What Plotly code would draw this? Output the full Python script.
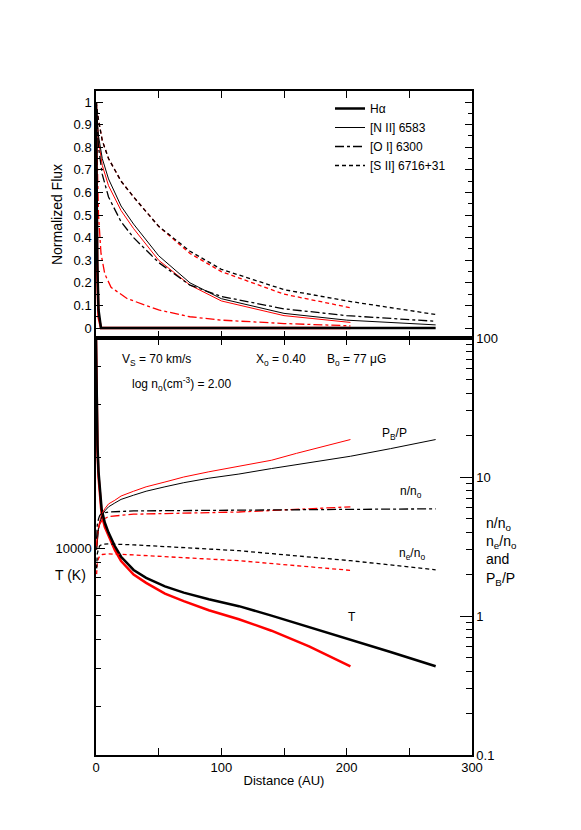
import plotly.graph_objects as go

W, H = 581, 830

# -------------------------
# Data: top panel (normalized flux vs distance)
# -------------------------
d_ha_blk = [0, 0.5, 1, 2, 4, 271]
f_ha_blk = [1, 0.6, 0.3, 0.08, 0, 0]
d_ha_red = [0, 0.5, 1, 2, 4, 203]
f_ha_red = [1, 0.55, 0.25, 0.05, 0, 0]

d_nii_blk = [0, 2, 5, 10, 20, 30, 50, 75, 100, 150, 200, 271]
f_nii_blk = [1, 0.85, 0.75, 0.66, 0.54, 0.46, 0.32, 0.20, 0.13, 0.065, 0.035, 0.014]
d_nii_red = [0, 2, 5, 10, 20, 30, 50, 75, 100, 150, 203]
f_nii_red = [1, 0.83, 0.72, 0.63, 0.52, 0.44, 0.30, 0.19, 0.12, 0.055, 0.025]

d_oi_blk = [0, 2, 5, 10, 20, 30, 50, 75, 100, 150, 200, 271]
f_oi_blk = [1, 0.8, 0.68, 0.58, 0.47, 0.40, 0.29, 0.19, 0.14, 0.085, 0.055, 0.03]
d_oi_red = [0, 1, 2, 4, 7, 12, 25, 50, 75, 100, 150, 203]
f_oi_red = [1, 0.7, 0.5, 0.33, 0.24, 0.18, 0.13, 0.08, 0.05, 0.035, 0.02, 0.01]

d_sii_blk = [0, 2, 5, 10, 20, 30, 50, 75, 100, 150, 200, 271]
f_sii_blk = [1, 0.92, 0.83, 0.75, 0.65, 0.58, 0.45, 0.34, 0.26, 0.17, 0.12, 0.06]
d_sii_red = [0, 2, 5, 10, 20, 30, 50, 75, 100, 150, 203]
f_sii_red = [1, 0.92, 0.83, 0.75, 0.65, 0.58, 0.45, 0.33, 0.25, 0.15, 0.09]

# -------------------------
# Data: bottom panel
# -------------------------
d_t_blk = [0, 0.3, 0.7, 1.2, 2, 3, 4.5, 7, 10, 15, 20, 30, 40, 55, 70, 90,
           114, 140, 170, 200, 235, 271]
t_blk = [49000, 38000, 28000, 22000, 18000, 15500, 13500, 12200, 11300, 10200,
         9400, 8500, 8000, 7500, 7150, 6800, 6450, 6000, 5500, 5050, 4550, 4080]
d_t_red = [0, 0.3, 0.7, 1.2, 2, 3, 4.5, 7, 10, 15, 20, 30, 40, 55, 70, 90,
           114, 140, 170, 203]
t_red = [49000, 37000, 27000, 21000, 17300, 15000, 13000, 11800, 11000, 9900,
         9100, 8200, 7700, 7100, 6700, 6250, 5840, 5350, 4750, 4080]

d_pb_blk = [0.5, 1, 2, 3.5, 5, 7, 10, 15, 20, 30, 40, 55, 70, 90, 114, 140, 160, 180, 203, 235, 271]
pb_blk = [3.0, 3.6, 4.2, 4.8, 5.3, 5.7, 6.1, 6.5, 6.9, 7.4, 7.9, 8.5, 9.1, 9.8, 10.5,
          11.5, 12.3, 13.1, 14.1, 16.0, 18.6]
d_pb_red = [0.5, 1, 2, 3.5, 5, 7, 10, 15, 20, 30, 40, 55, 70, 90, 114, 140, 160, 180, 203]
pb_red = [3.0, 3.7, 4.4, 5.0, 5.5, 5.9, 6.4, 6.8, 7.3, 7.9, 8.5, 9.2, 10.0, 10.9, 11.9,
          13.2, 14.8, 16.5, 18.6]

d_n_blk = [0.5, 1, 2, 3, 5, 10, 30, 114, 203, 271]
n_blk = [3.6, 4.5, 5.0, 5.3, 5.5, 5.6, 5.7, 5.8, 5.85, 5.9]
d_n_red = [0.5, 1, 2, 3, 5, 10, 30, 114, 203]
n_red = [3.2, 3.8, 4.3, 4.6, 4.9, 5.2, 5.4, 5.6, 6.1]

d_ne_blk = [0.5, 1, 2, 3, 5, 10, 30, 114, 203, 271]
ne_blk = [2.2, 2.8, 3.05, 3.2, 3.28, 3.3, 3.25, 2.95, 2.5, 2.15]
d_ne_red = [0.5, 1, 2, 3, 5, 10, 30, 114, 203]
ne_red = [2.0, 2.4, 2.6, 2.7, 2.77, 2.8, 2.75, 2.5, 2.13]

FONT = "Liberation Sans, Arial, sans-serif"
DASH = "4px,3px"

# plot frame in pixels
L, R, T, B = 88, 464, 83, 747
SPLIT = 330


def px(x):
    return (x - L) / (R - L)


def py(y):
    return (B - y) / (B - T)


fig = go.Figure()


def add(x, y, color, width, dash, ya, name=None):
    fig.add_trace(
        go.Scatter(
            x=x, y=y, mode="lines", yaxis=ya, xaxis="x2" if ya == "y" else "x",
            line=dict(color=color, width=width, dash=dash),
            name=name, showlegend=name is not None,
        )
    )


# top panel
add(d_ha_red, f_ha_red, "red", 2.5, "solid", "y")
add(d_nii_red, f_nii_red, "red", 1, "solid", "y")
add(d_oi_red, f_oi_red, "red", 1.3, "dashdot", "y")
add(d_sii_red, f_sii_red, "red", 1.3, DASH, "y")
add(d_ha_blk, f_ha_blk, "black", 2.5, "solid", "y", "H\u03b1")
add(d_nii_blk, f_nii_blk, "black", 1, "solid", "y", "[N II] 6583")
add(d_oi_blk, f_oi_blk, "black", 1.3, "dashdot", "y", "[O I] 6300")
add(d_sii_blk, f_sii_blk, "black", 1.3, DASH, "y", "[S II] 6716+31")

# bottom panel
add(d_t_red, t_red, "red", 2.5, "solid", "y2")
add(d_t_blk, t_blk, "black", 2.5, "solid", "y2")
add(d_pb_red, pb_red, "red", 1, "solid", "y3")
add(d_pb_blk, pb_blk, "black", 1, "solid", "y3")
add(d_n_red, n_red, "red", 1.3, "dashdot", "y3")
add(d_n_blk, n_blk, "black", 1.3, "dashdot", "y3")
add(d_ne_red, ne_red, "red", 1.3, DASH, "y3")
add(d_ne_blk, ne_blk, "black", 1.3, DASH, "y3")

axis_common = dict(
    showline=True, linecolor="black", linewidth=1.5, mirror="ticks",
    ticks="inside", tickcolor="black", ticklen=7, showgrid=False,
    zeroline=False, tickfont=dict(size=13, color="black"), automargin=False,
)

top_dom = [py(SPLIT), 1]
bot_dom = [0, py(SPLIT)]

t_minor = [2000, 3000, 4000, 5000, 6000, 7000, 8000, 9000, 20000, 30000, 40000]
r_minor = [m * 10 ** e for e in (-1, 0, 1) for m in range(2, 10)]

fig.update_layout(
    width=W, height=H, margin=dict(l=L, r=W - R, t=T, b=H - B),
    paper_bgcolor="white", plot_bgcolor="white",
    font=dict(family=FONT, size=13, color="black"),
    xaxis=dict(
        axis_common, domain=[0, 1], anchor="y2", range=[0, 300],
        tickvals=[0, 100, 200, 300],
        minor=dict(tickvals=[50, 150, 250], ticks="inside", ticklen=7, tickcolor="black"),
        title=dict(text="Distance (AU)", font=dict(size=13), standoff=2),
    ),
    xaxis2=dict(
        axis_common, domain=[0, 1], anchor="y", range=[0, 300],
        tickvals=[0, 100, 200, 300], showticklabels=False,
        minor=dict(tickvals=[50, 150, 250], ticks="inside", ticklen=7, tickcolor="black"),
    ),
    yaxis=dict(
        axis_common, domain=top_dom, anchor="x2", range=[-0.044, 1.049],
        tickvals=[i / 10 for i in range(11)],
        ticktext=["0"] + [f"{i / 10:g}" for i in range(1, 10)] + ["1"],
        minor=dict(tickvals=[i / 20 for i in range(1, 20, 2)], ticks="inside", ticklen=4, tickcolor="black"),
        title=dict(text="Normalized Flux", font=dict(size=14), standoff=8),
    ),
    yaxis2=dict(
        axis_common, domain=bot_dom, anchor="x", type="log",
        range=[3.317, 4.697], mirror=False, tickvals=[10000], ticktext=["10000"],
        ticklen=9,
        minor=dict(tickvals=t_minor, ticks="inside", ticklen=5, tickcolor="black"),
    ),
    yaxis3=dict(
        axis_common, domain=bot_dom, anchor="x", overlaying="y2", side="right",
        type="log", range=[-1, 2], mirror=False,
        tickvals=[0.1, 1, 10, 100], ticktext=["0.1", "1", "10", "100"], ticklen=12,
        minor=dict(tickvals=r_minor, ticks="inside", ticklen=6, tickcolor="black"),
    ),
    legend=dict(
        x=px(322), y=py(86), xanchor="left", yanchor="top",
        bgcolor="rgba(0,0,0,0)", font=dict(size=12), tracegroupgap=0,
        itemwidth=30,
    ),
)


def note(text, x, y, size=12, xanchor="left"):
    fig.add_annotation(
        text=text, x=px(x), y=py(y), xref="paper", yref="paper",
        showarrow=False, xanchor=xanchor, yanchor="middle",
        font=dict(size=size, color="black"), align="left",
    )


note("V<sub>S</sub> = 70 km/s", 112, 352)
note("X<sub>o</sub> = 0.40", 246, 352)
note("B<sub>o</sub> = 77 \u03bcG", 317, 352)
note("log n<sub>o</sub>(cm<sup>-3</sup>) = 2.00", 122, 376)
note("P<sub>B</sub>/P", 372, 426)
note("n/n<sub>o</sub>", 390, 484)
note("n<sub>e</sub>/n<sub>o</sub>", 389, 546)
note("T", 338, 609)
note("T (K)", 45, 567, size=14)
note("n/n<sub>o</sub><br>n<sub>e</sub>/n<sub>o</sub><br>and<br>P<sub>B</sub>/P", 476, 543, size=14)

fig.write_html("out.html")
